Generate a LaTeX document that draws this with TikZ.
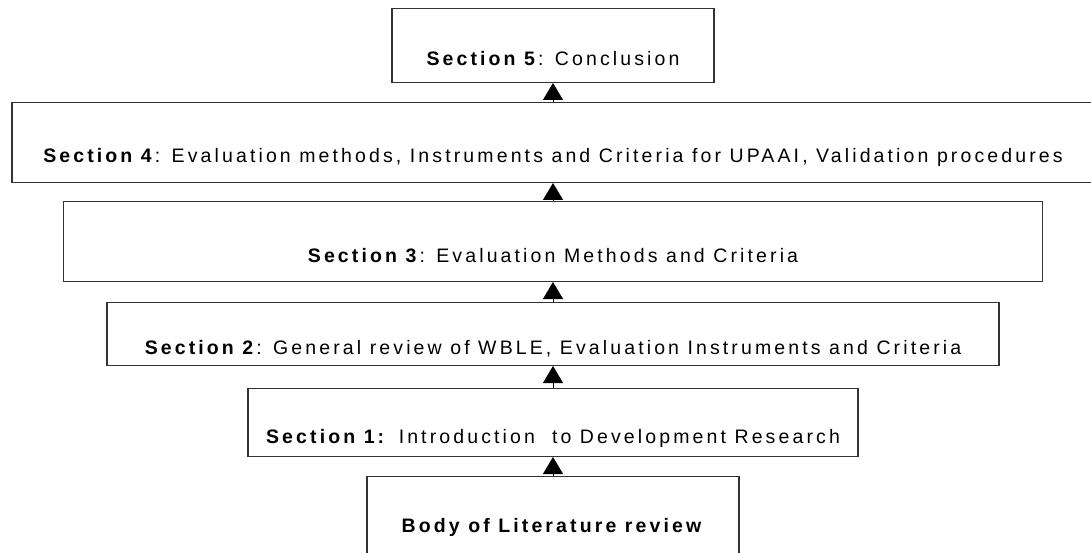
\documentclass[tikz,border=0pt]{standalone}
\usepackage{fontspec}
\newfontfamily\boxfont{Liberation Sans}[LetterSpace=16]
\usetikzlibrary{arrows.meta}

\begin{document}
\begin{tikzpicture}[x=1pt,y=-1pt,
    box/.style={draw=black!80,line width=1.1pt,inner sep=0pt,anchor=south,
      font=\boxfont\fontsize{19.5}{21}\selectfont},
    arrow/.style={-{Triangle[width=20pt,length=17pt]},line width=0.8pt}]
  \useasboundingbox (0,0) rectangle (1091,553);
  \clip (0,0) rectangle (1091,553);
  \node[box,minimum width=322pt,text height=57pt,text depth=17pt] (sec5) at (553,83)
    {\textbf{Section 5}: Conclusion};
  \node[box,minimum width=1082pt,text height=60pt,text depth=20pt] (sec4) at (553,183)
    {\textbf{Section 4}: Evaluation methods, Instruments and Criteria for UPAAI, Validation procedures};
  \node[box,minimum width=979pt,text height=61pt,text depth=19pt] (sec3) at (553,282)
    {\textbf{Section 3}: Evaluation Methods and Criteria};
  \node[box,minimum width=892pt,text height=52pt,text depth=11pt] (sec2) at (553,366)
    {\textbf{Section 2}: General review of WBLE, Evaluation Instruments and Criteria};
  \node[box,minimum width=610pt,text height=55pt,text depth=13pt] (sec1) at (553,457)
    {\textbf{Section 1:} Introduction \ to Development Research};
  \node[box,minimum width=372pt,text height=56pt,text depth=67pt] (body) at (553,600)
    {\textbf{Body of Literature review}};

  \draw[arrow] (body) -- (sec1);
  \draw[arrow] (sec1) -- (sec2);
  \draw[arrow] (sec2) -- (sec3);
  \draw[arrow] (sec3) -- (sec4);
  \draw[arrow] (sec4) -- (sec5);
\end{tikzpicture}
\end{document}
